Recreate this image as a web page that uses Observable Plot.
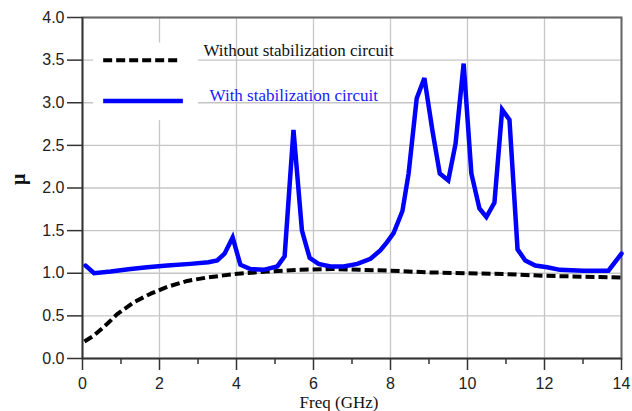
<!DOCTYPE html>
<html><head><meta charset="utf-8">
<script src="https://cdn.jsdelivr.net/npm/d3@7"></script>
<script src="https://cdn.jsdelivr.net/npm/@observablehq/plot@0.6"></script>
<style>html,body{margin:0;padding:0;background:#fff} svg{display:block}</style>
</head><body><div id="chart"></div>
<script>
// ---- data ----
const withoutFreq = [0.05,0.3,0.65,0.9,1.33,1.77,2.2,2.72,3.24,3.93,4.8,5.66,6.5,7.2,8.0,9.0,10.0,11.0,12.0,13.0,14.0];
const withoutMu   = [0.2,0.27,0.41,0.52,0.66,0.76,0.84,0.91,0.95,0.99,1.02,1.04,1.05,1.04,1.03,1.01,1.0,0.99,0.97,0.96,0.95];

const withFreq = [0.08,0.3,0.73,1.25,1.68,2.2,2.8,3.27,3.5,3.69,3.9,4.1,4.36,4.7,5.06,5.25,5.48,5.7,5.9,6.13,6.44,6.78,7.14,7.48,7.74,7.9,8.08,8.31,8.47,8.68,8.88,9.09,9.28,9.5,9.69,9.9,10.1,10.31,10.49,10.7,10.9,11.09,11.3,11.5,11.76,12.07,12.4,13.0,13.66,14.0];
const withMu   = [1.09,1.0,1.02,1.05,1.07,1.09,1.11,1.13,1.15,1.23,1.42,1.1,1.05,1.04,1.08,1.2,2.68,1.5,1.18,1.11,1.08,1.08,1.11,1.17,1.27,1.36,1.47,1.73,2.17,3.05,3.29,2.67,2.17,2.09,2.52,3.46,2.17,1.76,1.66,1.83,2.92,2.8,1.28,1.15,1.09,1.07,1.04,1.03,1.03,1.23];

const xMajorTicks = [0,2,4,6,8,10,12,14];
const xMinorTicks = [1,3,5,7,9,11,13];
const yTicks = [0,0.5,1,1.5,2,2.5,3,3.5,4];
const legendLabels = ["Without stabilization circuit","With stabilization circuit"];
const xLabel = "Freq (GHz)";
const yLabel = "μ";

// ---- layout / style ----
const serif = "'Liberation Serif','Times New Roman',serif";
const sans = "'Liberation Sans',Arial,sans-serif";
const legendBox = {x1: 0.29, x2: 3.01, y1: 2.79, y2: 3.70};
const legendItems = [
  {label: legendLabels[0], x1: 0.55, x2: 2.57, y: 3.5, tx: 3.14, ty: 3.61, color: "#000", text: "#111"},
  {label: legendLabels[1], x1: 0.55, x2: 2.62, y: 3.02, tx: 3.3, ty: 3.09, color: "#0000ff", text: "#1a1aff"}
];
const dash = "9,4";

const withoutData = withoutFreq.map((f, i) => ({f, mu: withoutMu[i]}));
const withData = withFreq.map((f, i) => ({f, mu: withMu[i]}));

const grid = {stroke: "#c6c6c6", strokeOpacity: 1, strokeWidth: 1.3};
const axisStyle = {label: null, stroke: "#333", strokeWidth: 1.5, fontSize: 16, fontFamily: sans, fill: "#222"};

const chart = Plot.plot({
  width: 632, height: 411,
  marginLeft: 82, marginRight: 11, marginTop: 17, marginBottom: 53,
  x: {domain: [0, 14]},
  y: {domain: [0, 4]},
  style: {fontFamily: sans, fontSize: "16px", background: "#fff", color: "#222"},
  marks: [
    Plot.gridX(xMajorTicks, grid),
    Plot.gridY(yTicks, grid),
    Plot.rect([legendBox], {x1: "x1", x2: "x2", y1: "y1", y2: "y2", fill: "white"}),
    Plot.frame({stroke: "#666", strokeWidth: 2}),
    Plot.ruleX([0], {stroke: "#333", strokeWidth: 1.5}),
    Plot.ruleY([0], {stroke: "#333", strokeWidth: 1.5}),
    Plot.axisX(xMajorTicks, {...axisStyle, tickSize: 12, tickPadding: 7, tickFormat: d => String(d)}),
    Plot.axisX(xMinorTicks, {...axisStyle, tickSize: 6, tickFormat: () => ""}),
    Plot.axisY(yTicks, {...axisStyle, tickSize: 15, tickPadding: 3, tickFormat: d3.format(".1f")}),
    Plot.line(withoutData, {x: "f", y: "mu", stroke: "#000", strokeWidth: 4, strokeDasharray: dash, strokeLinecap: "butt", strokeLinejoin: "miter"}),
    Plot.line(withData, {x: "f", y: "mu", stroke: "#0000ff", strokeWidth: 4.5, strokeLinejoin: "miter", strokeMiterlimit: 3}),
    Plot.ruleY([legendItems[0]], {x1: "x1", x2: "x2", y: "y", stroke: "color", strokeWidth: 4, strokeDasharray: dash}),
    Plot.ruleY([legendItems[1]], {x1: "x1", x2: "x2", y: "y", stroke: "color", strokeWidth: 4.5}),
    Plot.text(legendItems, {x: "tx", y: "ty", text: "label", fill: "text", textAnchor: "start", lineAnchor: "middle", fontFamily: serif, fontSize: 17}),
    Plot.text([yLabel], {text: d => d, frameAnchor: "left", dx: -64, dy: -3, rotate: -90, fontWeight: "bold", fontFamily: serif, fontSize: 20, fill: "#111"}),
    Plot.text([xLabel], {text: d => d, frameAnchor: "bottom", dx: -13, dy: 49, lineAnchor: "bottom", fontFamily: serif, fontSize: 17, fill: "#111"})
  ]
});
document.getElementById("chart").appendChild(chart);
</script>
</body></html>
